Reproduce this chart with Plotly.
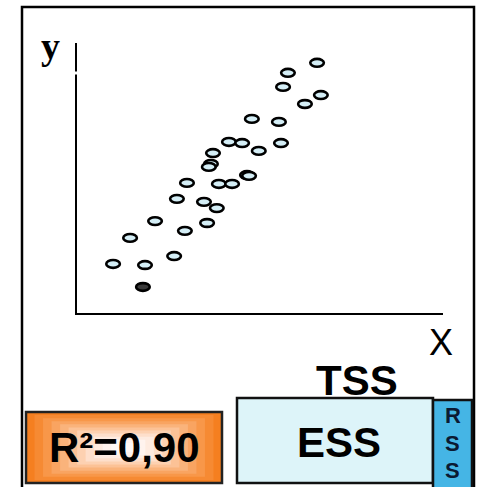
import plotly.graph_objects as go

# ---- data ----
x_vals = [6.92, 6.08, 5.94, 7.03, 6.57, 5.04, 5.82, 4.38, 4.76, 5.88,
          5.24, 3.92, 3.86, 3.80, 4.90, 4.96, 3.17, 4.09, 4.47, 2.88,
          3.66, 4.03, 2.25, 3.75, 3.11, 1.53, 2.80, 1.04, 1.96, 1.90]
y_vals = [9.23, 8.86, 8.34, 8.04, 7.71, 7.16, 7.05, 6.31, 6.27, 6.27,
          5.98, 5.90, 5.50, 5.39, 5.09, 5.06, 4.80, 4.76, 4.76, 4.21,
          4.10, 3.87, 3.39, 3.32, 3.03, 2.77, 2.10, 1.81, 1.77, 0.96]
highlight = [False] * 29 + [True]

r2_label = "R²=0,90"
tss_label = "TSS"
ess_label = "ESS"
rss_letters = ["R", "S", "S"]
x_label = "X"
y_label = "y"

W, H = 477, 487
ML, MR, MT, MB = 77, 34, 43, 174
PW = W - ML - MR
PH = H - MT - MB


def px(xp):
    return (xp - ML) / PW


def py(yp):
    return (H - MB - yp) / PH


fig = go.Figure()
fig.add_trace(go.Scatter(x=x_vals, y=y_vals, mode="markers",
                         marker=dict(size=10, opacity=0), hoverinfo="x+y",
                         showlegend=False))

shapes = []
# ellipse markers anchored at data values
for xv, yv, hl in zip(x_vals, y_vals, highlight):
    shapes.append(dict(type="circle", xref="x", yref="y",
                       xsizemode="pixel", ysizemode="pixel",
                       xanchor=xv, yanchor=yv, x0=-6.8, x1=6.8, y0=-3.9, y1=3.9,
                       fillcolor="#3a3a3a" if hl else "#d4eef6",
                       line=dict(color="black", width=2.6)))

# outer frame
shapes.append(dict(type="rect", xref="paper", yref="paper",
                   x0=px(22), x1=px(474), y0=py(7), y1=py(500),
                   line=dict(color="black", width=2.5), fillcolor="rgba(0,0,0,0)",
                   layer="below"))
# small gap in y-axis line
shapes.append(dict(type="rect", xref="paper", yref="paper",
                   x0=px(73), x1=px(80), y0=py(71.5), y1=py(74.5),
                   line=dict(width=0), fillcolor="white", layer="above"))

# orange gradient box (nested rects)
ox0, ox1, oy0, oy1 = 26, 222, 412, 483
grad = ["#f57f20", "#f68a33", "#f89749", "#f9a461", "#fab37b", "#fcc296",
        "#fdd1b1", "#fedfcb", "#feebe0", "#fff3ee", "#fff8f5"]
n = len(grad)
for i, c in enumerate(grad):
    fx = i * (ox1 - ox0) / (2 * n + 1)
    fy = i * (oy1 - oy0) / (2 * n + 1)
    shapes.append(dict(type="rect", xref="paper", yref="paper",
                       x0=px(ox0 + fx), x1=px(ox1 - fx), y0=py(oy0 + fy), y1=py(oy1 - fy),
                       line=dict(width=0), fillcolor=c, layer="below"))
shapes.append(dict(type="rect", xref="paper", yref="paper",
                   x0=px(ox0), x1=px(ox1), y0=py(oy0), y1=py(oy1),
                   line=dict(color="#222", width=2.5), fillcolor="rgba(0,0,0,0)"))

# ESS box
shapes.append(dict(type="rect", xref="paper", yref="paper",
                   x0=px(237), x1=px(433), y0=py(398), y1=py(483),
                   line=dict(color="#111", width=2.5), fillcolor="#ddf4f9"))
# RSS box
shapes.append(dict(type="rect", xref="paper", yref="paper",
                   x0=px(433), x1=px(472), y0=py(400), y1=py(500),
                   line=dict(color="#111", width=2.5), fillcolor="#45b5e5"))

annotations = [
    dict(text="<b>" + y_label + "</b>", x=px(50), y=py(46), xref="paper", yref="paper",
         showarrow=False, font=dict(family="Liberation Serif", size=38, color="black"),
         xanchor="center", yanchor="middle"),
    dict(text=x_label, x=px(441), y=py(342), xref="paper", yref="paper",
         showarrow=False, font=dict(family="Liberation Sans", size=36, color="black"),
         xanchor="center", yanchor="middle"),
    dict(text="<b>" + tss_label + "</b>", x=px(357), y=py(380), xref="paper", yref="paper",
         showarrow=False, font=dict(family="Liberation Sans", size=42, color="black"),
         xanchor="center", yanchor="middle"),
    dict(text="<b>" + ess_label + "</b>", x=px(339), y=py(442), xref="paper", yref="paper",
         showarrow=False, font=dict(family="Liberation Sans", size=42, color="black"),
         xanchor="center", yanchor="middle"),
    dict(text="<b>" + r2_label + "</b>", x=px(124), y=py(447), xref="paper", yref="paper",
         showarrow=False, font=dict(family="Liberation Sans", size=42, color="black"),
         xanchor="center", yanchor="middle"),
]
for letter, yp in zip(rss_letters, [415, 443, 471]):
    annotations.append(dict(text="<b>" + letter + "</b>", x=px(452.5), y=py(yp),
                            xref="paper", yref="paper", showarrow=False,
                            font=dict(family="Liberation Sans", size=22, color="#0b1a33"),
                            xanchor="center", yanchor="middle"))

fig.update_layout(
    width=W, height=H,
    margin=dict(l=ML, r=MR, t=MT, b=MB, pad=0),
    paper_bgcolor="white", plot_bgcolor="white",
    xaxis=dict(range=[0, 10.55], showgrid=False, zeroline=False, showticklabels=False,
               ticks="", showline=True, linecolor="black", linewidth=2, fixedrange=True),
    yaxis=dict(range=[0, 9.96], showgrid=False, zeroline=False, showticklabels=False,
               ticks="", showline=True, linecolor="black", linewidth=2, fixedrange=True),
    shapes=shapes,
    annotations=annotations,
    showlegend=False,
)

fig.write_html("out.html", config={"displayModeBar": False},
               post_script="document.body.style.margin='0';document.body.style.padding='0';document.body.style.overflow='hidden';")
